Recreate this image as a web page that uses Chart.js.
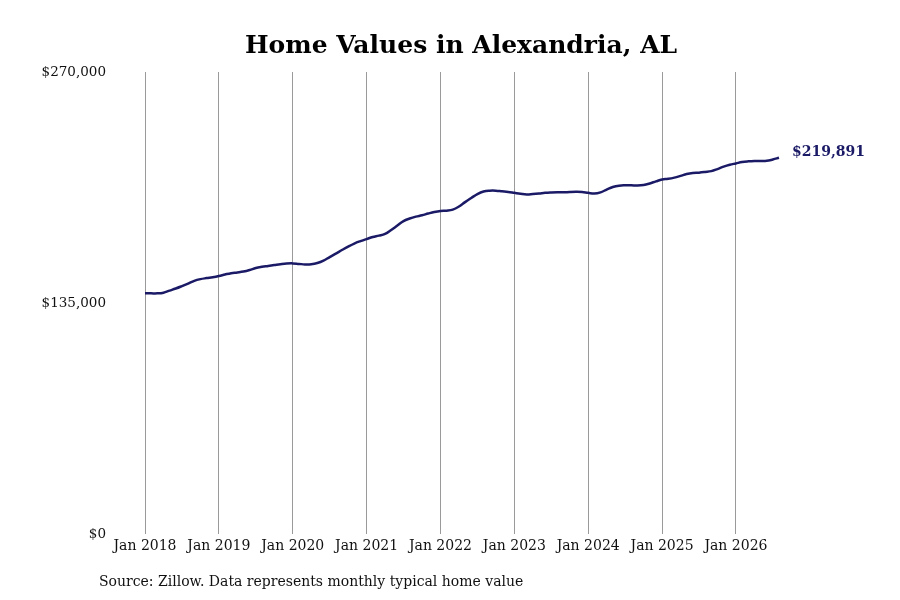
<!DOCTYPE html>
<html>
<head>
<meta charset="utf-8">
<title>Home Values in Alexandria, AL</title>
<script src="https://cdn.jsdelivr.net/npm/chart.js@4.4.1/dist/chart.umd.min.js"></script>
<style>
  body { margin: 0; background: #fff; }
  #wrap { width: 900px; height: 600px; }
</style>
</head>
<body>
<div id="wrap"><canvas id="homeChart"></canvas></div>
<script>
// Monthly typical home value, Jan 2018 .. Aug 2026
const monthNames = ['Jan', 'Feb', 'Mar', 'Apr', 'May', 'Jun', 'Jul', 'Aug', 'Sep', 'Oct', 'Nov', 'Dec'];
const years = [2018, 2019, 2020, 2021, 2022, 2023, 2024, 2025, 2026];
const monthsIn2026 = 8;

const homeValues = [
  140700, 140700, 140700, 141100, 142300, 143500, 144900, 146400, 148000, 149000, 149600, 150100, // 2018
  150800, 151700, 152500, 152900, 153400, 154300, 155500, 156200, 156700, 157200, 157700, 158100, // 2019
  158200, 157900, 157600, 157700, 158400, 159800, 161900, 163900, 166000, 168000, 169800, 171200, // 2020
  172400, 173600, 174400, 175400, 177700, 180300, 182900, 184400, 185500, 186300, 187300, 188200, // 2021
  188800, 189000, 189600, 191400, 194000, 196400, 198700, 200200, 200700, 200700, 200300, 199900, // 2022
  199400, 198900, 198500, 198700, 199000, 199400, 199600, 199700, 199700, 199900, 200000, 199900, // 2023
  199400, 199000, 199700, 201300, 202800, 203600, 203800, 203800, 203700, 204000, 204900, 206100, // 2024
  207200, 207600, 208300, 209300, 210400, 211000, 211200, 211600, 212100, 213300, 214700, 215800, // 2025
  216600, 217400, 217800, 218000, 218000, 218100, 218900, 219891                                  // 2026
];

const yTicks = [0, 135000, 270000];

// build "Mon YYYY" category labels
const labels = [];
years.forEach(y => {
  const n = y === 2026 ? monthsIn2026 : 12;
  for (let m = 0; m < n; m++) labels.push(monthNames[m] + ' ' + y);
});

const lineColor = '#1b1a66';
const fmt = v => '$' + v.toLocaleString('en-US');

// label at the end of the line
const endLabel = {
  id: 'endLabel',
  afterDatasetsDraw(chart) {
    const meta = chart.getDatasetMeta(0);
    const last = meta.data[meta.data.length - 1];
    const ctx = chart.ctx;
    ctx.save();
    ctx.font = 'bold 14px "DejaVu Serif"';
    ctx.fillStyle = lineColor;
    ctx.textAlign = 'left';
    ctx.textBaseline = 'middle';
    ctx.fillText(fmt(homeValues[homeValues.length - 1]), last.x + 13, last.y - 5);
    ctx.restore();
  }
};

// source note under the chart
const sourceNote = {
  id: 'sourceNote',
  afterDraw(chart) {
    const ctx = chart.ctx;
    ctx.save();
    ctx.font = '14px "DejaVu Serif"';
    ctx.fillStyle = '#111';
    ctx.textAlign = 'left';
    ctx.textBaseline = 'middle';
    ctx.fillText('Source: Zillow. Data represents monthly typical home value', 99, 582);
    ctx.restore();
  }
};

new Chart(document.getElementById('homeChart'), {
  type: 'line',
  data: {
    labels: labels,
    datasets: [{
      data: homeValues,
      borderColor: lineColor,
      borderWidth: 2.5,
      pointRadius: 0,
      tension: 0.4,
      fill: false
    }]
  },
  options: {
    responsive: true,
    maintainAspectRatio: false,
    animation: false,
    layout: { padding: { left: 42, right: 20, top: 0, bottom: 41 } },
    plugins: {
      legend: { display: false },
      tooltip: { enabled: false },
      title: {
        display: true,
        text: 'Home Values in Alexandria, AL',
        color: '#000',
        font: { family: 'DejaVu Serif', size: 25, weight: 'bold' },
        padding: { top: 31, bottom: 11 }
      }
    },
    scales: {
      x: {
        grid: { color: '#9a9a9a', lineWidth: 1, drawTicks: false },
        border: { display: false },
        ticks: {
          autoSkip: false,
          maxRotation: 0,
          padding: 4,
          color: '#111',
          font: { family: 'DejaVu Serif', size: 14 },
          callback: function (val) {
            const l = this.getLabelForValue(val);
            return l.startsWith('Jan') ? l : null;
          }
        }
      },
      y: {
        min: 0,
        max: 270000,
        afterBuildTicks: s => { s.ticks = yTicks.map(v => ({ value: v })); },
        afterFit: s => { s.width = 103; },
        grid: { display: false, drawTicks: false },
        border: { display: false },
        ticks: {
          padding: 39,
          color: '#111',
          font: { family: 'DejaVu Serif', size: 13.5 },
          callback: v => fmt(v)
        }
      },
      // empty right axis, only reserves room for the end label
      yRight: {
        position: 'right',
        grid: { display: false, drawTicks: false },
        border: { display: false },
        ticks: { display: false },
        afterFit: s => { s.width = 101; }
      }
    }
  },
  plugins: [endLabel, sourceNote]
});
</script>
</body>
</html>
